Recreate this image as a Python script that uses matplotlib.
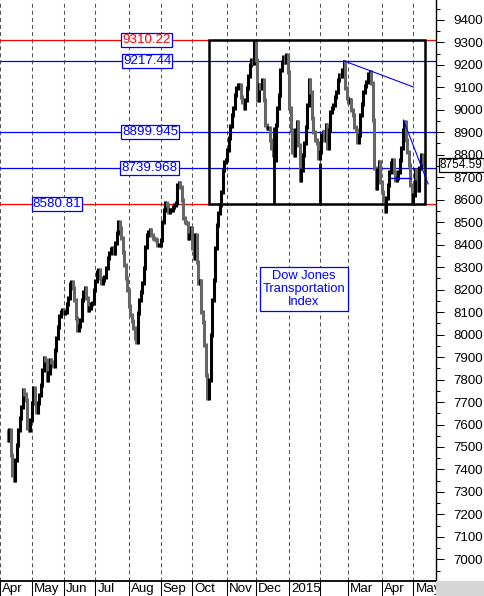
import numpy as np
import pandas as pd
import matplotlib
matplotlib.use('Agg')
import matplotlib.pyplot as plt
from matplotlib.patches import Rectangle

plt.rcParams['font.family'] = ['Liberation Sans', 'DejaVu Sans']
plt.rcParams['lines.scale_dashes'] = False

#------------ daily closes, one per trading day from 2014-04-08 -----------------#
apr14 = [7531, 7576, 7465, 7375, 7353, 7443, 7509, 7576, 7629, 7678, 7754, 7736, 7709, 7584, 7576, 7620]
may14 = [7696, 7763, 7696, 7656, 7696, 7732, 7776, 7843, 7896, 7887, 7798, 7829, 7887, 7878, 7860,
         7931, 7985, 8034, 8083, 8100, 8109]
jun14 = [8096, 8100, 8136, 8163, 8225, 8234, 8207, 8154, 8074, 8020, 8038, 8065, 8154, 8189, 8207,
         8163, 8109, 8118, 8136, 8141, 8198]
jul14 = [8238, 8278, 8287, 8252, 8229, 8243, 8256, 8296, 8341, 8363, 8381, 8385, 8363, 8408, 8452,
         8501, 8474, 8430, 8367, 8309, 8252, 8198]
aug14 = [8127, 8087, 8060, 8029, 7985, 7967, 8096, 8154, 8189, 8229, 8296, 8390, 8443, 8456, 8465,
         8443, 8430, 8425, 8421, 8399, 8399]
sep14 = [8421, 8501, 8554, 8585, 8576, 8545, 8554, 8554, 8567, 8576, 8585, 8665, 8674, 8656, 8599,
         8518, 8501, 8496, 8430, 8443, 8474]
oct14 = [8385, 8341, 8443, 8323, 8229, 8238, 8100, 8056, 7954, 7820, 7715, 7798, 7998, 8154, 8243,
         8385, 8487, 8541, 8576, 8634, 8732, 8768, 8777]
nov14 = [8821, 8874, 8928, 8977, 9008, 9066, 9097, 9110, 9110, 9057, 9034, 9008, 9043, 9097, 9150,
         9199, 9221, 9208, 9300]
dec14 = [9221, 9043, 9110, 9097, 9132, 9043, 8932, 8919, 8919, 8865, 8830, 8799, 8777, 8932, 9008,
         9066, 9177, 9212, 9235, 9212, 9243, 9168]
jan15 = [9008, 8910, 8812, 8799, 8910, 8945, 8843, 8688, 8732, 8799, 8852, 8923, 9021, 9132, 9079,
         8963, 8901, 8865, 8852, 8785]
feb15 = [8812, 8888, 8901, 8865, 8932, 8830, 8910, 8990, 9008, 9021, 9057, 9079, 9132, 9155, 9150,
         9177, 9212, 9097, 9052]
mar15 = [9034, 9043, 8999, 8977, 8923, 8910, 8857, 8888, 8977, 9025, 9079, 9106, 9124, 9159, 9168,
         9119, 8954, 8741, 8652, 8732, 8768, 8679]
apr15 = [8634, 8599, 8550, 8607, 8665, 8723, 8763, 8777, 8723, 8688, 8696, 8723, 8777, 8830, 8910,
         8945, 8865, 8812, 8754, 8665, 8595]
may15 = [8621, 8732, 8696, 8643, 8741, 8799, 8768, 8754.59]

# two days with a long tail down to the range floor
tail_dates = ['2014-12-17', '2015-02-02']
tail_highs = [8923, 8763]
tail_lows = [8581, 8581]

levels = [9310.22, 9217.44, 8899.945, 8739.968, 8580.81]
level_line_colors = ['red', 'blue', 'blue', 'blue', 'red']
level_text_colors = ['red', 'blue', 'blue', 'blue', 'blue']

month_labels = ['Apr', 'May', 'Jun', 'Jul', 'Aug', 'Sep', 'Oct', 'Nov', 'Dec', '2015', '', 'Mar', 'Apr', 'May']

holidays = ['2014-04-18', '2014-05-26', '2014-07-04', '2014-09-01', '2014-11-27',
            '2014-12-25', '2015-01-01', '2015-01-19', '2015-02-16', '2015-04-03']

#------------ trading calendar -----------------#
closes = np.array(apr14 + may14 + jun14 + jul14 + aug14 + sep14 + oct14 + nov14 + dec14 +
                  jan15 + feb15 + mar15 + apr15 + may15, dtype=float)
cal = pd.bdate_range('2014-04-01', '2015-06-30', freq='C', holidays=holidays)
start = cal.get_loc(pd.Timestamp('2014-04-08'))
x = np.arange(len(closes)) + start

months = cal.to_period('M')
month_pos = [0] + [i for i in range(1, len(cal)) if months[i] != months[i - 1]]
month_pos = month_pos[:len(month_labels)]

#------------ figure -----------------#
fig = plt.figure(figsize=(4.84, 5.96), dpi=100)
ax = fig.add_axes([0, 15 / 596, 436 / 484, 581 / 596])
fig.patches.append(Rectangle((436 / 484, 0), 1 - 436 / 484, 15 / 596, transform=fig.transFigure,
                             facecolor='#d6d6d6', edgecolor='none', zorder=0))

ax.set_xlim(start - 0.93, start + 282.9)
ax.set_ylim(6904, 9488)

for p in month_pos:
    ax.axvline(p, color='#555555', lw=0.75, linestyle=(0, (2.9, 2.2)), zorder=1)

# price bars: previous close -> close, black up, grey down
prev = np.r_[closes[0] + 40, closes[:-1]]
cols = np.where(closes >= prev, 'black', '#666666')
ax.vlines(x, np.minimum(prev, closes) - 8, np.maximum(prev, closes) + 8, colors=cols, lw=2.2, zorder=3)
for d, h, l in zip(tail_dates, tail_highs, tail_lows):
    ax.vlines(cal.get_loc(pd.Timestamp(d)), l, h, colors='black', lw=2.0, zorder=3)

for lv, lc in zip(levels, level_line_colors):
    ax.axhline(lv, color=lc, lw=0.9, zorder=2)

# consolidation box
box_left = cal.get_loc(pd.Timestamp('2014-10-16')) + 0.2
box_right = x[-1] + 0.8
ax.add_patch(Rectangle((box_left, levels[4]), box_right - box_left, levels[0] - levels[4],
                       fill=False, edgecolor='black', lw=1.8, zorder=4))

# trend lines
ax.plot([227, 273], [9217.44, 9101], color='blue', lw=0.8, zorder=5)
ax.plot([266.4, 282.7], [8954, 8670], color='blue', lw=0.8, zorder=5)
ax.plot([258, 271.7], [8696, 8696], color='blue', lw=1.0, zorder=5)

# level labels
label_x = [96.8, 97.2, 99.1, 98.8, 37.6]
for lv, tc, lx in zip(levels, level_text_colors, label_x):
    ax.text(lx, lv, ('%.3f' % lv).rstrip('0'), color=tc, fontsize=9.6, ha='center', va='center',
            zorder=6, bbox=dict(boxstyle='square,pad=0.08', fc='white', ec='blue', lw=0.9))

ax.text(200.7, 8203, 'Dow Jones\nTransportation\nIndex', color='blue', fontsize=9.3, ha='center',
        va='center', linespacing=1.15, zorder=6,
        bbox=dict(boxstyle='square,pad=0.18', fc='white', ec='blue', lw=0.9))

# last value tag
ax.text(1.009, closes[-1], '%.2f' % closes[-1], transform=ax.get_yaxis_transform(),
        fontsize=8.5, ha='left', va='center', clip_on=False, zorder=7,
        bbox=dict(boxstyle='square,pad=0.1', fc='white', ec='black', lw=0.9))

#------------ axes styling -----------------#
for s in ['left', 'top']:
    ax.spines[s].set_visible(False)
ax.spines['bottom'].set_linewidth(1.3)
ax.spines['right'].set_linewidth(1.0)

ax.yaxis.tick_right()
ax.set_yticks(np.arange(7000, 9401, 100))
ax.set_yticks(np.arange(6950, 9451, 50), minor=True)
ax.tick_params(axis='y', which='major', length=5.8, width=0.75, pad=7.0, labelsize=9.6)
ax.tick_params(axis='y', which='minor', length=2.9, width=0.75)

ax.set_xticks(month_pos)
ax.set_xticklabels([])
ax.tick_params(axis='x', which='major', direction='out', length=11, width=0.75)
for p, lab in zip(month_pos, month_labels):
    ax.annotate(lab, xy=(p, 0), xycoords=('data', 'axes fraction'), xytext=(2, -2),
                textcoords='offset pixels', fontsize=9.6, ha='left', va='top', annotation_clip=False)

fig.savefig('out.png', dpi=100)
